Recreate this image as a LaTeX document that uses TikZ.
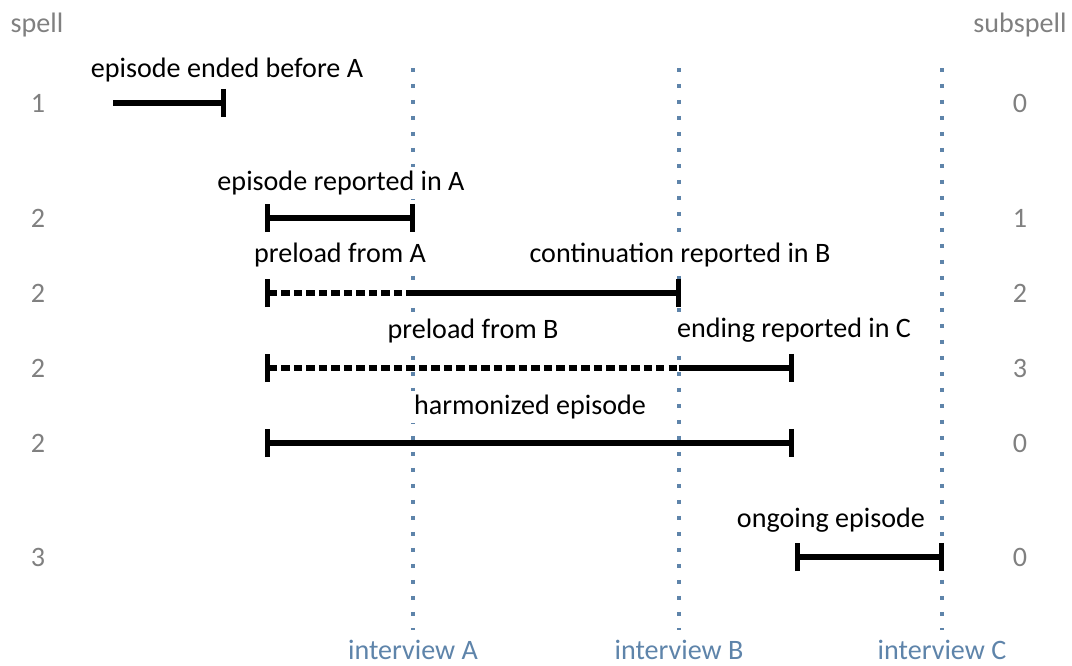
\documentclass[tikz,border=0pt]{standalone}
\usepackage{fontspec}
\setmainfont{Carlito}
\usepackage{tikz}
\usetikzlibrary{positioning,arrows.meta}
\definecolor{ivblue}{RGB}{94,132,170}
\definecolor{numgray}{RGB}{128,128,128}
\tikzstyle{num}=[text = numgray, inner sep = 2pt, font = \fontsize{16}{19}\selectfont]
\tikzstyle{iv}=[draw = ivblue, line width = 2.6pt, line cap = butt, dash pattern = on 0.09cm off 0.23cm]

\begin{document}
\begin{tikzpicture}[x = 0.02cm, y = -0.02cm, line width = 2.9pt, >={Bar[width = 16pt]},
	el/.style = {fill = white, inner sep = 2pt, font = \fontsize{16}{19}\selectfont},
	ivl/.style = {text = ivblue, inner sep = 2pt, font = \fontsize{16}{19}\selectfont},
	pre/.style = {dash pattern = on 0.165cm off 0.085cm}]

	\useasboundingbox (0, 0) rectangle (1072, 666);

	% column heads and row numbers
	\node[num] (spell) at (37, 25) {spell};
	\node[num] (subspell) at (1020, 25) {subspell};
	\node[num] (S1) at (38, 103) {1};
	\node[num] (S2) at (38, 218) {2};
	\node[num] (S3) at (38, 293) {2};
	\node[num] (S4) at (38, 368) {2};
	\node[num] (S5) at (38, 443) {2};
	\node[num] (S6) at (38, 557) {3};
	\node[num] (U1) at (1020, 103) {0};
	\node[num] (U2) at (1020, 218) {1};
	\node[num] (U3) at (1020, 293) {2};
	\node[num] (U4) at (1020, 368) {3};
	\node[num] (U5) at (1020, 443) {0};
	\node[num] (U6) at (1020, 557) {0};

	% interviews
	\coordinate (At) at (413, 68);
	\coordinate (Ab) at (413, 630);
	\coordinate (Bt) at (679, 68);
	\coordinate (Bb) at (679, 630);
	\coordinate (Ct) at (942, 68);
	\coordinate (Cb) at (942, 630);
	\node[ivl] (IA) at (413, 650) {interview A};
	\node[ivl] (IB) at (679, 650) {interview B};
	\node[ivl] (IC) at (942, 650) {interview C};
	\draw[iv] (At) -- (Ab);
	\draw[iv] (Bt) -- (Bb);
	\draw[iv] (Ct) -- (Cb);

	% labels
	\node[el] (L1) at (227, 70) {episode ended before A};
	\node[el] (L2) at (341, 183) {episode reported in A};
	\node[el] (L3a) at (340, 255) {preload from A};
	\node[el] (L3b) at (680, 255) {continuation reported in B};
	\node[el] (L4a) at (473, 331) {preload from B};
	\node[el] (L4b) at (794, 330) {ending reported in C};
	\node[el] (L5) at (530, 407) {harmonized episode};
	\node[el] (L6) at (831, 520) {ongoing episode};

	% episodes
	\coordinate (E1a) at (113, 103);
	\coordinate (E1b) at (226, 103);
	\coordinate (E2a) at (265, 218);
	\coordinate (E2b) at (415, 218);
	\coordinate (E3a) at (265, 293);
	\coordinate (E3m) at (At |- E3a);
	\coordinate (E3b) at (681, 293);
	\coordinate (E4a) at (265, 368);
	\coordinate (E4m) at (Bt |- E4a);
	\coordinate (E4b) at (794, 368);
	\coordinate (E5a) at (265, 443);
	\coordinate (E5b) at (794, 443);
	\coordinate (E6a) at (795, 557);
	\coordinate (E6b) at (944, 557);

	\draw[->] (E1a) -- (E1b);
	\draw[<->] (E2a) -- (E2b);
	\draw[<-, pre] (E3a) -- (E3m);
	\draw[->] (E3m) -- (E3b);
	\draw[<-, pre] (E4a) -- (E4m);
	\draw[->] (E4m) -- (E4b);
	\draw[<->] (E5a) -- (E5b);
	\draw[<->] (E6a) -- (E6b);

\end{tikzpicture}
\end{document}
